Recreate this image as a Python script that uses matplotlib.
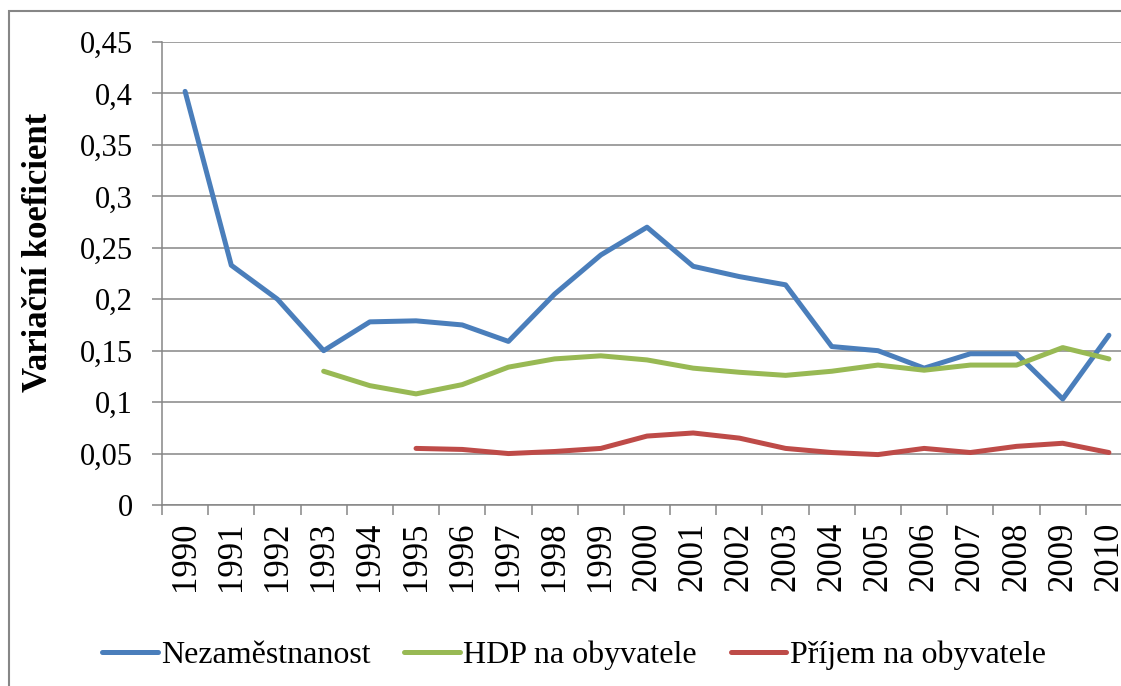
import matplotlib
matplotlib.use("Agg")
import matplotlib.pyplot as plt
from matplotlib.patches import Rectangle
from matplotlib.ticker import FixedLocator, FuncFormatter

years = [str(y) for y in range(1990, 2011)]
nezamestnanost = [0.402, 0.233, 0.200, 0.150, 0.178, 0.179, 0.175, 0.159, 0.205, 0.243,
                  0.270, 0.232, 0.222, 0.214, 0.154, 0.150, 0.133, 0.147, 0.147, 0.103, 0.165]
hdp = [None, None, None, 0.130, 0.116, 0.108, 0.117, 0.134, 0.142, 0.145,
       0.141, 0.133, 0.129, 0.126, 0.130, 0.136, 0.131, 0.136, 0.136, 0.153, 0.142]
prijem = [None, None, None, None, None, 0.055, 0.054, 0.050, 0.052, 0.055,
          0.067, 0.070, 0.065, 0.055, 0.051, 0.049, 0.055, 0.051, 0.057, 0.060, 0.051]
series_names = ["Nezaměstnanost", "HDP na obyvatele", "Příjem na obyvatele"]
colors = ["#4A7EBB", "#98B954", "#BE4B48"]
yticks = [0, 0.05, 0.1, 0.15, 0.2, 0.25, 0.3, 0.35, 0.4, 0.45]

plt.rcParams['font.family'] = ['Liberation Serif', 'DejaVu Serif']

W, H = 1121, 686
fig = plt.figure(figsize=(W / 100, H / 100), dpi=100)
ax = fig.add_axes([162 / W, 1 - 505 / H, 970 / W, 463 / H])

x = list(range(len(years)))
grid_c = "#868686"
for vals, name, c in zip([nezamestnanost, hdp, prijem], series_names, colors):
    xs = [i for i, v in zip(x, vals) if v is not None]
    ys = [v for v in vals if v is not None]
    ax.plot(xs, ys, color=c, lw=3.6, label=name, solid_capstyle='round',
            solid_joinstyle='round', zorder=3)

ax.set_xlim(-0.5, len(years) - 0.5)
ax.set_ylim(0, 0.45)
ax.set_yticks(yticks)
ax.yaxis.set_major_formatter(FuncFormatter(lambda v, p: ('%g' % round(v, 2)).replace('.', ',')))
ax.set_xticks(x)
ax.set_xticklabels(years, rotation=90)
ax.xaxis.set_minor_locator(FixedLocator([i - 0.5 for i in range(len(years) + 1)]))
ax.tick_params(axis='x', which='major', length=0, pad=12, labelsize=25)
ax.tick_params(axis='x', which='minor', length=7.2, width=1.1, color=grid_c, direction='out')
ax.tick_params(axis='y', which='major', length=7.2, width=1.1, color=grid_c, direction='out',
               pad=13.5, labelsize=22)

ax.grid(axis='y', color=grid_c, lw=1.1, zorder=0)
ax.set_axisbelow(True)
for s in ['top', 'right']:
    ax.spines[s].set_visible(False)
for s in ['left', 'bottom']:
    ax.spines[s].set_color(grid_c)
    ax.spines[s].set_linewidth(1.1)

ax.set_ylabel("Variační koeficient", fontsize=25, fontweight='bold')
ax.yaxis.set_label_coords(-0.110, 0.545)

fig.legend(loc='center left', bbox_to_anchor=(102 / W, 1 - 655 / H), ncol=3, frameon=False,
           fontsize=23, handlelength=1.75, handletextpad=0.1, columnspacing=1.05, borderpad=0,
           borderaxespad=0)

fig.patches.append(Rectangle((9 / W, -0.1), 1.2, 1.1 - 11 / H, transform=fig.transFigure,
                             fill=False, edgecolor=grid_c, lw=1.5))

fig.savefig("out.png", dpi=100)
